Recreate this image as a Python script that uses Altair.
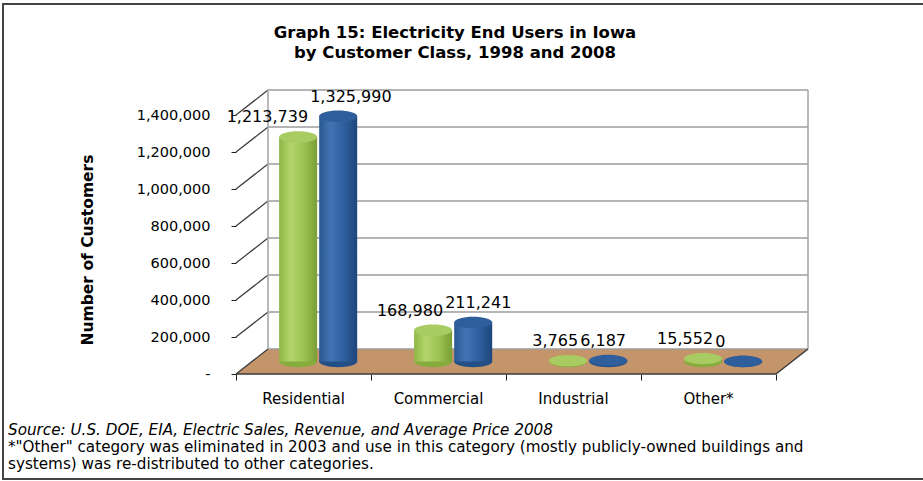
import altair as alt
import pandas as pd

# ---------------- data ----------------
categories = ["Residential", "Commercial", "Industrial", "Other*"]
series = ["1998", "2008"]
values_1998 = [1213739, 168980, 3765, 15552]
values_2008 = [1325990, 211241, 6187, 0]
y_ticks = [0, 200000, 400000, 600000, 800000, 1000000, 1200000, 1400000]

title_lines = "Graph 15: Electricity End Users in Iowa\nby Customer Class, 1998 and 2008"
y_title = "Number of Customers"
source_line = "Source: U.S. DOE, EIA, Electric Sales, Revenue, and Average Price 2008"
note_lines = ["*\"Other\" category was eliminated in 2003 and use in this category (mostly publicly-owned buildings and",
              "systems) was re-distributed to other categories."]

# ---------------- pseudo-3D geometry ----------------
W, H = 572, 284
PX_PER_CAT = 135.0
DX = 32 / PX_PER_CAT            # depth shift (category units)
Y_TOP = 1400000
UNITS_PER_PX = Y_TOP / 259.0
DY = 25 * UNITS_PER_PX          # depth shift (value units)
X_MAX = 4 + DX
Y_MAX = Y_TOP + DY
HALF = 19 / PX_PER_CAT
SERIES_OFFSET = {"1998": 0.46, "2008": 0.757}
FONT = "DejaVu Sans"

rows = []
for s, vals in zip(series, [values_1998, values_2008]):
    for i, (c, v) in enumerate(zip(categories, vals)):
        xc = i + SERIES_OFFSET[s]
        rows.append(dict(category=c, series=s, value=v, xc=xc, x1=xc - HALF, x2=xc + HALF,
                         base=DY / 2, top=v + DY / 2, lab=v + DY))
bars = pd.DataFrame(rows)

xs = alt.Scale(domain=[0, X_MAX], nice=False, zero=False)
ys = alt.Scale(domain=[0, Y_MAX], nice=False, zero=False)

AX = alt.Axis(values=[0, 1, 2, 3, 4], labels=False, domain=False, grid=False, ticks=True,
              tickSize=6, tickColor="#222222", title=None)
AY = alt.Axis(values=y_ticks, grid=False, domain=False, ticks=True, tickSize=5,
              tickColor="#222222", title=None,
              labelExpr="datum.value == 0 ? '-' : format(datum.value, ',')",
              labelFont=FONT, labelFontSize=14.5, labelColor="#000000", labelPadding=21)


def X(field):
    return alt.X(field, scale=xs, axis=AX)


def Y(field):
    return alt.Y(field, scale=ys, axis=AY)


one = pd.DataFrame({"k": [0]})

# border (right side runs off the page, as in the reference)
border = alt.Chart(one).mark_rect(fill=None, stroke="#444444", strokeWidth=2).encode(
    x=alt.value(-233), x2=alt.value(695), y=alt.value(-86), y2=alt.value(389))

# floor parallelogram
floor_df = pd.DataFrame({"x": [0, DX, 4, X_MAX], "top": [0, DY, DY, DY], "bot": [0, 0, 0, DY]})
floor = alt.Chart(floor_df).mark_area(color="#C4956A", opacity=1).encode(
    x=X("x:Q"), y=Y("top:Q"), y2="bot:Q")

grid_df = pd.DataFrame({"v": y_ticks})
grid_df["vb"] = grid_df["v"] + DY
grid_df["x0"] = 0.0
grid_df["xb"] = DX
grid_df["xe"] = X_MAX
back_grid = alt.Chart(grid_df).mark_rule(color="#9C9C9C", strokeWidth=1.6).encode(
    x=X("xb:Q"), x2="xe:Q", y=Y("vb:Q"))
side_grid = alt.Chart(grid_df).mark_rule(color="#3A3A3A", strokeWidth=1.2).encode(
    x=X("x0:Q"), x2="xb:Q", y=Y("v:Q"), y2="vb:Q")

edges_df = pd.DataFrame({"x": [DX, X_MAX], "y1": [DY, DY], "y2": [Y_MAX, Y_MAX]})
edges = alt.Chart(edges_df).mark_rule(color="#A8A8A8", strokeWidth=1.6).encode(
    x=X("x:Q"), y=Y("y1:Q"), y2="y2:Q")

front_df = pd.DataFrame({"xa": [0, 4], "xb": [4, X_MAX], "ya": [0, 0], "yb": [0, DY]})
front = alt.Chart(front_df).mark_rule(color="#3A3A3A", strokeWidth=1.5).encode(
    x=X("xa:Q"), x2="xb:Q", y=Y("ya:Q"), y2="yb:Q")

ELLIPSE = "M-1,0A1,0.3,0,1,0,1,0A1,0.3,0,1,0,-1,0Z"
palette = {
    "1998": dict(stops=["#8FB645", "#B3D46C", "#9CC452", "#7A9E36"], cap="#A9CC62", bottom="#86AC3E"),
    "2008": dict(stops=["#2A5791", "#4274B3", "#2F5F9E", "#1E467C"], cap="#2E5E9C", bottom="#244E86"),
}

cyl_layers = []
for s in series:
    d = bars[bars.series == s]
    p = palette[s]
    grad = alt.Gradient(gradient="linear",
                        stops=[alt.GradientStop(color=p["stops"][0], offset=0),
                               alt.GradientStop(color=p["stops"][1], offset=0.3),
                               alt.GradientStop(color=p["stops"][2], offset=0.65),
                               alt.GradientStop(color=p["stops"][3], offset=1)],
                        x1=0, x2=1, y1=0, y2=0)
    bottom = alt.Chart(d).mark_point(shape=ELLIPSE, size=1444, filled=True, opacity=1,
                                     color=p["bottom"], strokeWidth=0).encode(
        x=X("xc:Q"), y=Y("base:Q"))
    body = alt.Chart(d).mark_bar(color=grad).encode(
        x=X("x1:Q"), x2="x2:Q", y=Y("base:Q"), y2="top:Q")
    cap = alt.Chart(d).mark_point(shape=ELLIPSE, size=1444, filled=True, opacity=1,
                                  color=p["cap"], strokeWidth=0).encode(
        x=X("xc:Q"), y=Y("top:Q"))
    cyl_layers += [bottom, body, cap]

# data labels: 1998 ends just left of the pair's gap, 2008 starts just right of it
lab_1998 = alt.Chart(bars[bars.series == "1998"]).mark_text(
    font=FONT, fontSize=16, baseline="bottom", align="right", dx=10, dy=1, color="#000000").encode(
    x=X("xc:Q"), y=Y("lab:Q"), text=alt.Text("value:Q", format=","))
lab_2008 = alt.Chart(bars[bars.series == "2008"]).mark_text(
    font=FONT, fontSize=16, baseline="bottom", align="left", dx=-28, dy=1, color="#000000").encode(
    x=X("xc:Q"), y=Y("lab:Q"), text=alt.Text("value:Q", format=","))

cat_df = pd.DataFrame({"category": categories, "xm": [i + 0.5 for i in range(len(categories))]})
cat_labels = alt.Chart(cat_df).mark_text(font=FONT, fontSize=15, baseline="middle", color="#000000").encode(
    x=X("xm:Q"), y=alt.value(H + 25), text="category:N")

title = alt.Chart(one).mark_text(text=title_lines, lineBreak="\n", lineHeight=20, font=FONT,
                                 fontSize=16.5, fontWeight="bold", align="center",
                                 baseline="middle", x=219, y=-57, color="#000000")
ytitle = alt.Chart(one).mark_text(text=y_title, font=FONT, fontSize=15.5, fontWeight="bold",
                                  angle=270, align="center", baseline="middle",
                                  x=-148, y=160, color="#000000")
source = alt.Chart(one).mark_text(text=source_line, font=FONT, fontSize=15.2, fontStyle="italic",
                                  align="left", baseline="middle", x=-228, y=340, color="#000000")
note1 = alt.Chart(one).mark_text(text=note_lines[0], font=FONT, fontSize=15.2, align="left",
                                 baseline="middle", x=-228, y=357, color="#000000")
note2 = alt.Chart(one).mark_text(text=note_lines[1], font=FONT, fontSize=15.2, align="left",
                                 baseline="middle", x=-228, y=374, color="#000000")

chart = alt.layer(
    border, floor, back_grid, side_grid, edges, front,
    *cyl_layers, lab_1998, lab_2008, cat_labels, title, ytitle, source, note1, note2
).properties(
    width=W, height=H,
    autosize=alt.AutoSizeParams(type="none"),
    padding={"left": 236, "top": 90, "right": 115, "bottom": 107},
    background="white",
).configure_view(stroke=None)

chart.save("out.html", embed_options={"renderer": "svg", "actions": False})
